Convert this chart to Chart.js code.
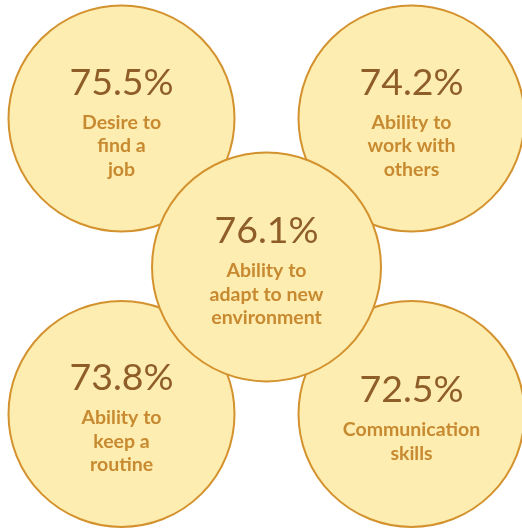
<!DOCTYPE html>
<html>
<head>
<meta charset="utf-8">
<script src="https://cdn.jsdelivr.net/npm/chart.js@4/dist/chart.umd.min.js"></script>
<style>
  html, body { margin: 0; padding: 0; background: #fff; }
  #wrap { width: 522px; height: 528px; }
</style>
</head>
<body>
<div id="wrap"><canvas id="skillChart" width="522" height="528"></canvas></div>
<script>
// data
var skills = [
    ['Desire to', 'find a', 'job'],
    ['Ability to', 'work with', 'others'],
    ['Ability to', 'keep a', 'routine'],
    ['Communication', 'skills'],
    ['Ability to', 'adapt to new', 'environment']
];
var shares = [75.5, 74.2, 73.8, 72.5, 76.1];

// layout: grid slot of each circle (center one last so it sits on top)
var slotX = [-1, 1, -1, 1, 0];
var slotY = [1.01, 1.01, -1, -1, 0];

var fillColor = '#fdedb1';
var lineColor = '#d4922e';
var valueColor = '#8f5e28';
var labelColor = '#c88a30';

var bubbleText = {
    id: 'bubbleText',
    afterDatasetsDraw: function (chart) {
        var ctx = chart.ctx;
        var meta = chart.getDatasetMeta(0);
        ctx.save();
        ctx.textAlign = 'center';
        ctx.textBaseline = 'alphabetic';
        meta.data.forEach(function (pt, i) {
            var lines = skills[i];
            var lineH = 23.5;
            var gap = 34;
            var top = pt.y + 17 - (gap + (lines.length - 1) * lineH) / 2;
            ctx.fillStyle = valueColor;
            ctx.font = '37.5px Lato';
            ctx.fillText(shares[i].toFixed(1) + '%', pt.x, top);
            ctx.fillStyle = labelColor;
            ctx.font = 'bold 19.5px Lato';
            lines.forEach(function (l, j) {
                ctx.fillText(l, pt.x, top + gap + j * lineH);
            });
        });
        ctx.restore();
    }
};

var points = shares.map(function (v, i) {
    return { x: slotX[i], y: slotY[i], v: v };
});

var chart = new Chart(document.getElementById('skillChart').getContext('2d'), {
    type: 'bubble',
    data: {
        datasets: [{
            data: points,
            backgroundColor: fillColor,
            borderColor: lineColor,
            borderWidth: 2,
            hoverRadius: 0,
            clip: false,
            radius: function (c) { return c.dataIndex === 4 ? 114.5 : 113; }
        }]
    },
    options: {
        responsive: false,
        animation: false,
        layout: { padding: 0, autoPadding: false },
        plugins: {
            legend: { display: false },
            tooltip: { enabled: false }
        },
        scales: {
            x: { display: false, min: -1.838, max: 1.762 },
            y: { display: false, min: -1.776, max: 1.816 }
        }
    },
    plugins: [bubbleText]
});
</script>
</body>
</html>
